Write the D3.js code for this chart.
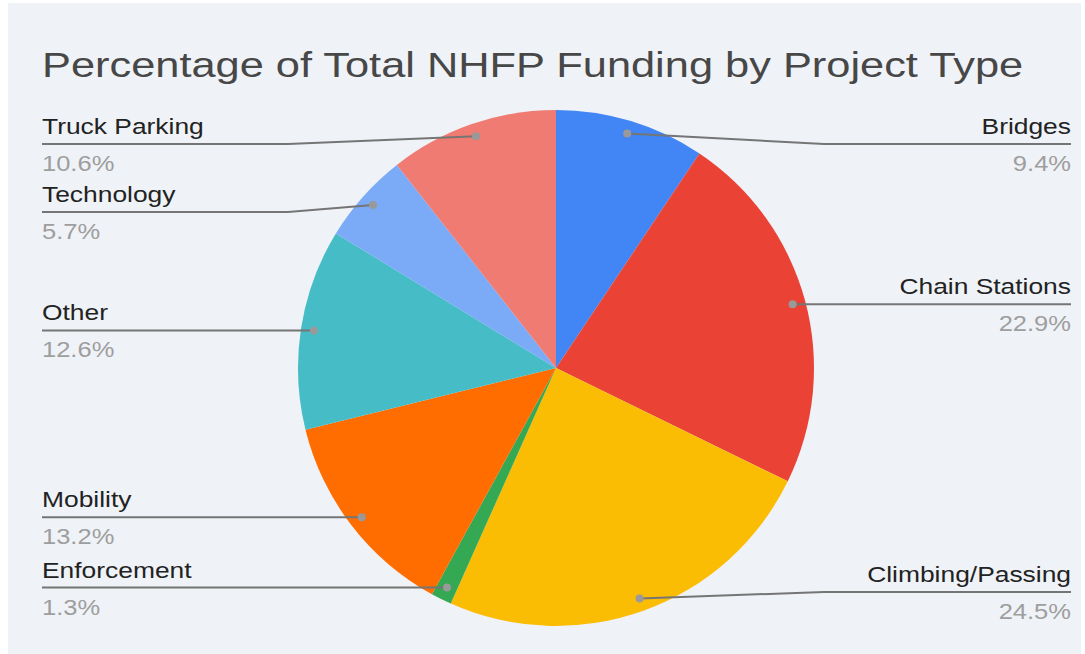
<!DOCTYPE html>
<html>
<head>
<meta charset="utf-8">
<script src="https://cdn.jsdelivr.net/npm/d3@7"></script>
<style>
  body { margin: 0; background: #fff; }
  svg { display: block; font-family: "Liberation Sans", Arial, sans-serif; }
</style>
</head>
<body>
<svg id="chart" width="1085" height="654"></svg>
<script>
// data, clockwise from 12 o'clock
var categories = ["Bridges", "Chain Stations", "Climbing/Passing", "Enforcement",
  "Mobility", "Other", "Technology", "Truck Parking"];
var shares = [9.4, 22.9, 24.5, 1.3, 13.2, 12.6, 5.7, 10.6];
var colors = ["#4285f4", "#ea4335", "#fbbc04", "#34a853",
  "#ff6d01", "#46bdc6", "#7baaf7", "#f07b72"];

var width = 1085, height = 654;
var cx = 556, cy = 368, r = 258;
var stretch = 1.2; // the lettering is wider than plain Arial

let svg = d3.select("#chart");

svg.append("rect")
  .attr("x", 8).attr("y", 3)
  .attr("width", 1073).attr("height", 651)
  .attr("fill", "#eff2f7");

svg.append("text")
  .attr("transform", "translate(42,77) scale(1.222,1)")
  .attr("font-size", 35.5)
  .attr("fill", "#474747")
  .text("Percentage of Total NHFP Funding by Project Type");

var data = categories.map((c, i) => ({ name: c, value: shares[i], color: colors[i] }));

var pie = d3.pie()
  .sort(null)
  .value((d) => d.value);

var arcs = pie(data);

var arc = d3.arc()
  .innerRadius(0)
  .outerRadius(r);

var g = svg.append("g")
  .attr("transform", "translate(" + cx + "," + cy + ")");

g.selectAll("path")
  .data(arcs)
  .enter()
  .append("path")
  .attr("d", arc)
  .attr("fill", (d) => d.data.color);

// label layout: dot at 0.95r, label line at dot height, clamped and spread
var dotR = r * 0.95;
var minY = 144, maxY = 592, gap = 68;

arcs.forEach((d) => {
  var a = (d.startAngle + d.endAngle) / 2;
  d.dx = cx + dotR * Math.sin(a);
  d.dy = cy - dotR * Math.cos(a);
  d.right = Math.sin(a) >= 0;
  d.ly = Math.max(minY, Math.min(maxY, d.dy));
});

[true, false].forEach((side) => {
  var list = arcs.filter((d) => d.right === side).sort((a, b) => a.ly - b.ly);
  for (var i = 1; i < list.length; i++) {
    if (list[i].ly - list[i - 1].ly < gap) list[i].ly = list[i - 1].ly + gap;
  }
  for (var j = list.length - 1; j >= 0; j--) {
    if (list[j].ly > maxY) list[j].ly = maxY;
    if (j < list.length - 1 && list[j + 1].ly - list[j].ly < gap) list[j].ly = list[j + 1].ly - gap;
  }
});

var leftX = 42, rightX = 1071, elbow = 268;

var labels = svg.append("g");

arcs.forEach((d) => {
  var edge = d.right ? rightX : leftX;
  var ex = d.right ? cx + elbow : cx - elbow;
  var pts = [[edge, d.ly], [ex, d.ly], [d.dx, d.dy]];
  if (Math.abs(d.ly - d.dy) < 1) pts = [[edge, d.ly], [d.dx, d.dy]];

  labels.append("path")
    .attr("d", d3.line()(pts))
    .attr("fill", "none")
    .attr("stroke", "#757575")
    .attr("stroke-width", 2);

  labels.append("circle")
    .attr("cx", d.dx).attr("cy", d.dy)
    .attr("r", 4)
    .attr("fill", "#999999");

  labels.append("text")
    .attr("transform", "translate(" + edge + "," + (d.ly - 10) + ") scale(" + stretch + ",1)")
    .attr("text-anchor", d.right ? "end" : "start")
    .attr("font-size", 22)
    .attr("fill", "#222222")
    .text(d.data.name);

  labels.append("text")
    .attr("transform", "translate(" + edge + "," + (d.ly + 27) + ") scale(1.16,1)")
    .attr("text-anchor", d.right ? "end" : "start")
    .attr("font-size", 22)
    .attr("fill", "#9e9e9e")
    .text(d.data.value.toFixed(1) + "%");
});
</script>
</body>
</html>
